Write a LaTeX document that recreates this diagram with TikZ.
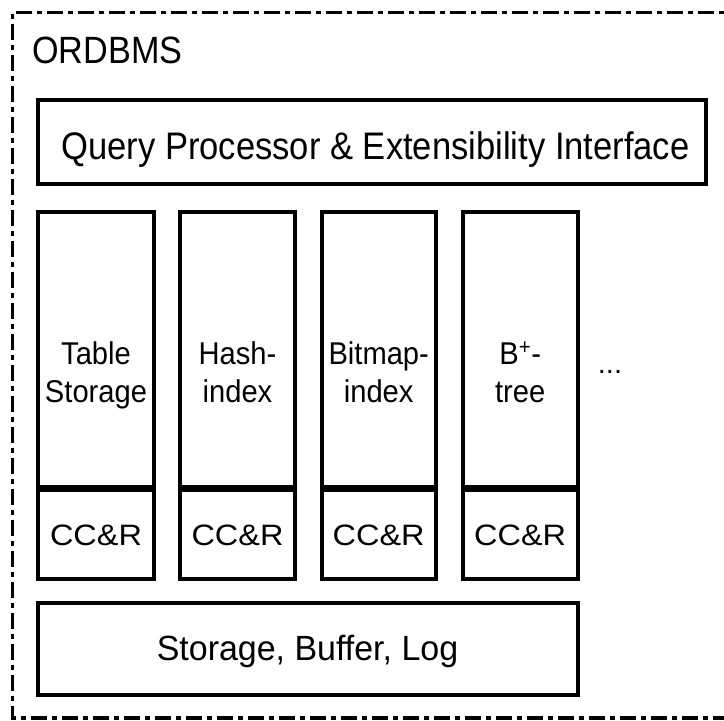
\documentclass[tikz,border=0pt]{standalone}
\usepackage{fontspec}
\setmainfont{Liberation Sans}
\newcommand\sxtext[2]{\scalebox{#1}[1]{#2}}
\newcommand\twolines[2]{\begin{tabular}[t]{@{}c@{}}#1\\#2\end{tabular}}
\begin{document}
\begin{tikzpicture}[x=1pt,y=-1pt,
  box/.style={draw,line width=4pt,inner sep=0pt,minimum width=#1},
  lbl/.style={anchor=base,inner sep=0pt},
  frame/.style={draw,line width=3.5pt,dash pattern=on 16pt off 5pt on 5pt off 5pt}]
\useasboundingbox (0,0) rectangle (724,721);
% outer frame
\draw[frame] (745,12.3) -- (12.3,12.3) -- (12.3,718) -- (745,718);
\node[lbl,anchor=base west,font=\fontsize{38}{44}\selectfont] (title) at (32,63) {\sxtext{0.9}{ORDBMS}};
% query processor
\node[box=667.5pt,minimum height=84pt] (qp) at (371.75,142) {};
\node[lbl,font=\fontsize{38.4}{44}\selectfont] (qpt) at (375.5,159) {\sxtext{0.9}{Query Processor \& Extensibility Interface}};
% columns
\foreach \n/\cx/\w/\ta/\tb in {ts/96/116/Table/Storage,hi/237.5/115/Hash-/index,bi/378.7/114/Bitmap-/index,bt/520.2/115/B\textsuperscript{+}-/tree}{
  \node[box=\w pt,minimum height=275pt] (\n) at (\cx,349.5) {};
  \node[box=\w pt,minimum height=89pt] (\n c) at (\cx,534.5) {};
  \node[lbl,font=\fontsize{31.5}{38}\selectfont] (\n t) at (\cx,364) {\sxtext{0.925}{\twolines{\ta}{\tb}}};
  \node[lbl,font=\fontsize{29.5}{35}\selectfont] (\n ct) at (\cx,545) {\sxtext{1.1}{CC\&R}};
}
\node[lbl,font=\fontsize{29}{35}\selectfont] (dots) at (610,373) {...};
% storage
\node[box=540.3pt,minimum height=92.8pt] (sb) at (307.85,649) {};
\node[lbl,font=\fontsize{35}{40}\selectfont] (sbt) at (307.5,660) {\sxtext{0.97}{Storage, Buffer, Log}};
\end{tikzpicture}
\end{document}
